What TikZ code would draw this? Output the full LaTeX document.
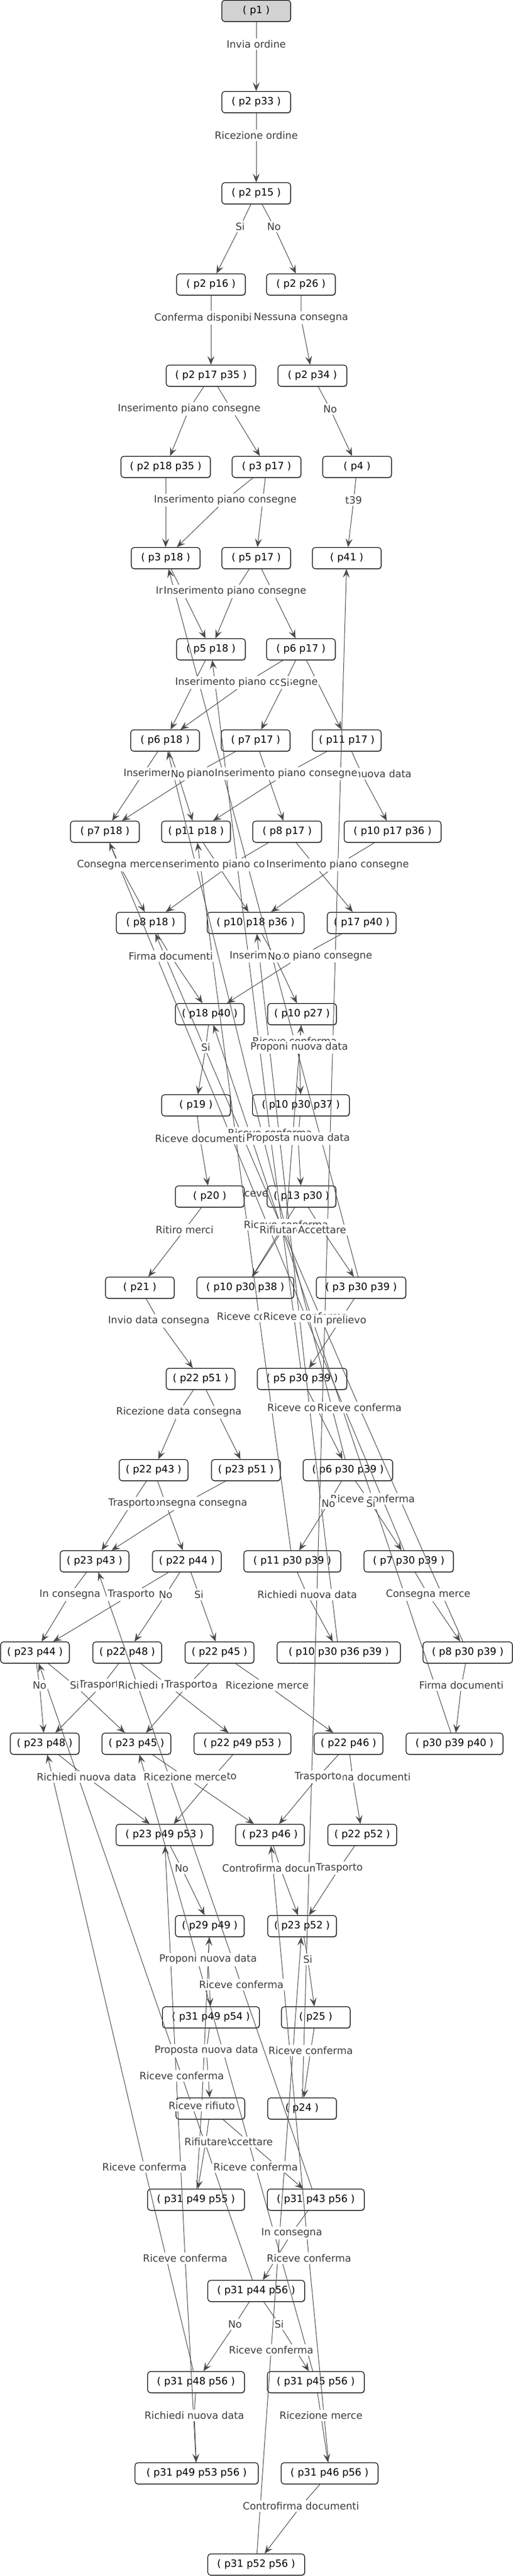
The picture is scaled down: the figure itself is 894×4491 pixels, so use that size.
\documentclass[tikz,border=0pt]{standalone}
\usepackage{fontspec}
\setmainfont{DejaVu Sans}
\usetikzlibrary{arrows.meta,shadows}
\definecolor{edgec}{HTML}{4A4A4A}
\definecolor{labc}{HTML}{3C3C3C}
\newcommand\mylabfont{\fontsize{17.5}{21}\selectfont}
\pgfdeclarelayer{lowlab}
\pgfdeclarelayer{nodelayer}
\pgfdeclarelayer{edgelayer}
\pgfsetlayers{lowlab,nodelayer,edgelayer,main}
\begin{document}
\begin{tikzpicture}[x=1pt,y=-1pt,
  st/.style={draw=black, line width=1.1pt, rounded corners=5pt, fill=white,
    minimum width=120pt, minimum height=37pt, inner sep=0pt, font=\mylabfont,
    drop shadow={shadow xshift=1.2pt, shadow yshift=-1.5pt, fill=black, opacity=0.25}},
  wa/.style={minimum width=156pt},
  wb/.style={minimum width=169pt},
  wc/.style={minimum width=215pt},
  lab/.style={fill=white, text=labc, inner xsep=2pt, inner ysep=3pt, font=\mylabfont},
  e/.style={draw=edgec, line width=1pt, -{Stealth[length=15pt,width=12pt,inset=6pt]}}]
\useasboundingbox (0,0) rectangle (894,4491);

\begin{pgfonlayer}{nodelayer}
\node[st,fill=gray!35] (p1) at (447,19) {( p1 )};
\node[st] (p2p33) at (447,178) {( p2 p33 )};
\node[st] (p2p15) at (447,337) {( p2 p15 )};
\node[st] (p2p16) at (368,496) {( p2 p16 )};
\node[st] (p2p26) at (525,496) {( p2 p26 )};
\node[st,wa] (p2p17p35) at (368,655) {( p2 p17 p35 )};
\node[st] (p2p34) at (545,655) {( p2 p34 )};
\node[st,wa] (p2p18p35) at (289,814) {( p2 p18 p35 )};
\node[st] (p3p17) at (465,814) {( p3 p17 )};
\node[st] (p4) at (623,814) {( p4 )};
\node[st] (p3p18) at (289,973) {( p3 p18 )};
\node[st] (p5p17) at (447,973) {( p5 p17 )};
\node[st] (p41) at (605,973) {( p41 )};
\node[st] (p5p18) at (368,1132) {( p5 p18 )};
\node[st] (p6p17) at (525,1132) {( p6 p17 )};
\node[st] (p6p18) at (288,1291) {( p6 p18 )};
\node[st] (p7p17) at (446,1291) {( p7 p17 )};
\node[st] (p11p17) at (605,1291) {( p11 p17 )};
\node[st] (p7p18) at (183,1450) {( p7 p18 )};
\node[st] (p11p18) at (342,1450) {( p11 p18 )};
\node[st] (p8p17) at (501,1450) {( p8 p17 )};
\node[st,wb] (p10p17p36) at (685,1450) {( p10 p17 p36 )};
\node[st] (p8p18) at (263,1609) {( p8 p18 )};
\node[st,wb] (p10p18p36) at (446,1609) {( p10 p18 p36 )};
\node[st] (p17p40) at (631,1609) {( p17 p40 )};
\node[st] (p18p40) at (366,1768) {( p18 p40 )};
\node[st] (p10p27) at (527,1768) {( p10 p27 )};
\node[st] (p19) at (342,1927) {( p19 )};
\node[st,wb] (p10p30p37) at (525,1927) {( p10 p30 p37 )};
\node[st] (p20) at (366,2086) {( p20 )};
\node[st] (p13p30) at (526,2086) {( p13 p30 )};
\node[st] (p21) at (244,2245) {( p21 )};
\node[st,wb] (p10p30p38) at (428,2245) {( p10 p30 p38 )};
\node[st,wa] (p3p30p39) at (630,2245) {( p3 p30 p39 )};
\node[st] (p22p51) at (350,2404) {( p22 p51 )};
\node[st,wa] (p5p30p39) at (527,2404) {( p5 p30 p39 )};
\node[st] (p22p43) at (268,2563) {( p22 p43 )};
\node[st] (p23p51) at (429,2563) {( p23 p51 )};
\node[st,wa] (p6p30p39) at (607,2563) {( p6 p30 p39 )};
\node[st] (p23p43) at (165,2722) {( p23 p43 )};
\node[st] (p22p44) at (326,2722) {( p22 p44 )};
\node[st,wb] (p11p30p39) at (510,2722) {( p11 p30 p39 )};
\node[st,wa] (p7p30p39) at (713,2722) {( p7 p30 p39 )};
\node[st] (p23p44) at (61,2881) {( p23 p44 )};
\node[st] (p22p48) at (222,2881) {( p22 p48 )};
\node[st] (p22p45) at (383,2881) {( p22 p45 )};
\node[st,wc] (p10p30p36p39) at (591,2881) {( p10 p30 p36 p39 )};
\node[st,wa] (p8p30p39) at (816,2881) {( p8 p30 p39 )};
\node[st] (p23p48) at (78,3040) {( p23 p48 )};
\node[st] (p23p45) at (238,3040) {( p23 p45 )};
\node[st,wb] (p22p49p53) at (423,3040) {( p22 p49 p53 )};
\node[st] (p22p46) at (608,3040) {( p22 p46 )};
\node[st,wb] (p30p39p40) at (793,3040) {( p30 p39 p40 )};
\node[st,wb] (p23p49p53) at (287,3199) {( p23 p49 p53 )};
\node[st] (p23p46) at (471,3199) {( p23 p46 )};
\node[st] (p22p52) at (632,3199) {( p22 p52 )};
\node[st] (p29p49) at (366,3358) {( p29 p49 )};
\node[st] (p23p52) at (527,3358) {( p23 p52 )};
\node[st,wb] (p31p49p54) at (368,3517) {( p31 p49 p54 )};
\node[st] (p25) at (551,3517) {( p25 )};
\node[st] (hid) at (367,3676) {};
\node[st] (p24) at (527,3676) {( p24 )};
\node[st,wb] (p31p49p55) at (342,3835) {( p31 p49 p55 )};
\node[st,wb] (p31p43p56) at (551,3835) {( p31 p43 p56 )};
\node[st,wb] (p31p44p56) at (447,3994) {( p31 p44 p56 )};
\node[st,wb] (p31p48p56) at (342,4153) {( p31 p48 p56 )};
\node[st,wb] (p31p45p56) at (551,4153) {( p31 p45 p56 )};
\node[st,wc] (p31p49p53p56) at (343,4312) {( p31 p49 p53 p56 )};
\node[st,wb] (p31p46p56) at (575,4312) {( p31 p46 p56 )};
\node[st,wb] (p31p52p56) at (447,4471) {( p31 p52 p56 )};
\end{pgfonlayer}

\begin{pgfonlayer}{lowlab}
\node[lab] (L34) at (483,2080) {Riceve conferma};
\end{pgfonlayer}

\node[lab] (L1) at (447,77) {Invia ordine};
\node[lab] (L2) at (447,236) {Ricezione ordine};
\node[lab] (L3) at (419,395) {Si};
\node[lab] (L4) at (478,395) {No};
\node[lab] (L5) at (368,554) {Conferma disponibilità};
\node[lab] (L6) at (525,554) {Nessuna consegna};
\node[lab] (L8) at (330,713) {Inserimento piano consegne};
\node[lab] (L9) at (576,713) {No};
\node[lab] (L12) at (393,872) {Inserimento piano consegne};
\node[lab] (L13) at (617,872) {t39};
\node[lab] (L14) at (318,1031) {In prelievo};
\node[lab] (L15) at (410,1031) {Inserimento piano consegne};
\node[lab] (L16) at (430,1190) {Inserimento piano consegne};
\node[lab] (L17) at (497,1190) {Si};
\node[lab] (L18) at (340,1349) {Inserimento piano consegne};
\node[lab] (L19) at (310,1349) {No};
\node[lab] (L20) at (631,1349) {Richiedi nuova data};
\node[lab] (L21) at (499,1349) {Inserimento piano consegne};
\node[lab] (L22) at (402,1508) {Inserimento piano consegne};
\node[lab] (L23) at (589,1508) {Inserimento piano consegne};
\node[lab] (L24) at (208,1508) {Consegna merce};
\node[lab] (L25) at (298,1667) {Firma documenti};
\node[lab] (L26) at (525,1667) {Inserimento piano consegne};
\node[lab] (L27) at (479,1667) {No};
\node[lab] (L28) at (514,1815) {Riceve conferma};
\node[lab] (L29) at (359,1826) {Si};
\node[lab] (L30) at (522,1826) {Proponi nuova data};
\node[lab] (L31) at (471,1975) {Riceve conferma};
\node[lab] (L32) at (520,1985) {Proposta nuova data};
\node[lab] (L33) at (349,1985) {Riceve documenti};
\node[lab] (L35) at (499,2135) {Riceve conferma};
\node[lab] (L36) at (322,2144) {Ritiro merci};
\node[lab] (L37) at (490,2144) {Rifiutare};
\node[lab] (L38) at (562,2144) {Accettare};
\node[lab] (L39) at (452,2295) {Riceve conferma};
\node[lab] (L40) at (533,2295) {Riceve conferma};
\node[lab] (L41) at (277,2303) {Invio data consegna};
\node[lab] (L42) at (593,2303) {In prelievo};
\node[lab] (L43) at (540,2454) {Riceve conferma};
\node[lab] (L44) at (627,2454) {Riceve conferma};
\node[lab] (L45) at (312,2462) {Ricezione data consegna};
\node[lab] (L46) at (650,2613) {Riceve conferma};
\node[lab] (L47) at (573,2621) {No};
\node[lab] (L48) at (647,2621) {Si};
\node[lab] (L49) at (322,2621) {Ricezione data consegna};
\node[lab] (L50) at (289,2621) {In consegna};
\node[lab] (L51) at (230,2621) {Trasporto};
\node[lab] (L52) at (122,2780) {In consegna};
\node[lab] (L53) at (229,2780) {Trasporto};
\node[lab] (L54) at (289,2780) {No};
\node[lab] (L55) at (347,2780) {Si};
\node[lab] (L56) at (536,2780) {Richiedi nuova data};
\node[lab] (L57) at (747,2780) {Consegna merce};
\node[lab] (L58) at (178,2938) {Trasporto};
\node[lab] (L59) at (130,2938) {Si};
\node[lab] (L60) at (69,2938) {No};
\node[lab] (L61) at (293,2938) {Richiedi nuova data};
\node[lab] (L62) at (328,2938) {Trasporto};
\node[lab] (L63) at (466,2938) {Ricezione merce};
\node[lab] (L64) at (805,2938) {Firma documenti};
\node[lab] (L65) at (151,3098) {Richiedi nuova data};
\node[lab] (L66) at (372,3098) {Trasporto};
\node[lab] (L67) at (323,3098) {Ricezione merce};
\node[lab] (L68) at (615,3098) {Controfirma documenti};
\node[lab] (L69) at (555,3098) {Trasporto};
\node[lab] (L70) at (317,3257) {No};
\node[lab] (L71) at (489,3257) {Controfirma documenti};
\node[lab] (L72) at (592,3257) {Trasporto};
\node[lab] (L73) at (363,3416) {Proponi nuova data};
\node[lab] (L74) at (537,3416) {Si};
\node[lab] (L75) at (421,3460) {Riceve conferma};
\node[lab] (L76) at (360,3575) {Proposta nuova data};
\node[lab] (L77) at (542,3575) {Riceve conferma};
\node[lab] (L78) at (317,3619) {Riceve conferma};
\node[lab] (L79) at (352,3671) {Riceve rifiuto};
\node[lab] (L80) at (434,3734) {Accettare};
\node[lab] (L81) at (359,3734) {Rifiutare};
\node[lab] (L82) at (252,3778) {Riceve conferma};
\node[lab] (L83) at (446,3778) {Riceve conferma};
\node[lab] (L84) at (509,3893) {In consegna};
\node[lab] (L85) at (323,3937) {Riceve conferma};
\node[lab] (L86) at (539,3937) {Riceve conferma};
\node[lab] (L87) at (410,4052) {No};
\node[lab] (L88) at (487,4052) {Si};
\node[lab] (L89) at (473,4097) {Riceve conferma};
\node[lab] (L90) at (339,4211) {Richiedi nuova data};
\node[lab] (L91) at (560,4211) {Ricezione merce};
\node[lab] (L92) at (525,4369) {Controfirma documenti};

\begin{pgfonlayer}{edgelayer}
\draw[e] (p1) -- (L1) -- (p2p33);
\draw[e] (p2p33) -- (L2) -- (p2p15);
\draw[e] (p2p15) -- (L3) -- (p2p16);
\draw[e] (p2p15) -- (L4) -- (p2p26);
\draw[e] (p2p16) -- (L5) -- (p2p17p35);
\draw[e] (p2p26) -- (L6) -- (p2p34);
\draw[e] (p2p17p35) -- (p3p17);
\draw[e] (p2p17p35) -- (L8) -- (p2p18p35);
\draw[e] (p2p34) -- (L9) -- (p4);
\draw[e] (p2p18p35) -- (p3p18);
\draw[e] (p3p17) -- (p5p17);
\draw[e] (p3p17) -- (L12) -- (p3p18);
\draw[e] (p4) -- (L13) -- (p41);
\draw[e] (p3p18) -- (L14) -- (p5p18);
\draw[e] (p5p17) -- (L15) -- (p5p18);
\draw[e] (p5p17) -- (p6p17);
\draw[e] (p5p18) -- (p6p18);
\draw[e] (p6p17) -- (L16) -- (p6p18);
\draw[e] (p6p17) -- (L17) -- (p7p17);
\draw[e] (p6p17) -- (p11p17);
\draw[e] (p7p17) -- (L18) -- (p7p18);
\draw[e] (p6p18) -- (L19) -- (p11p18);
\draw[e] (p6p18) -- (p7p18);
\draw[e] (p11p17) -- (L20) -- (p10p17p36);
\draw[e] (p11p17) -- (L21) -- (p11p18);
\draw[e] (p7p17) -- (p8p17);
\draw[e] (p8p17) -- (L22) -- (p8p18);
\draw[e] (p10p17p36) -- (L23) -- (p10p18p36);
\draw[e] (p7p18) -- (L24) -- (p8p18);
\draw[e] (p11p18) -- (p10p18p36);
\draw[e] (p8p17) -- (p17p40);
\draw[e] (p8p18) -- (L25) -- (p18p40);
\draw[e] (p17p40) -- (L26) -- (p18p40);
\draw[e] (p10p18p36) -- (L27) -- (p10p27);
\draw[e] (p18p40) -- (L29) -- (p19);
\draw[e] (p10p27) -- (L30) -- (p10p30p37);
\draw[e] (p10p30p37) -- (L32) -- (p13p30);
\draw[e] (p19) -- (L33) -- (p20);
\draw[e] (p20) -- (L36) -- (p21);
\draw[e] (p13p30) -- (L37) -- (p10p30p38);
\draw[e] (p13p30) -- (L38) -- (p3p30p39);
\draw[e] (p21) -- (L41) -- (p22p51);
\draw[e] (p3p30p39) -- (L42) -- (p5p30p39);
\draw[e] (p22p51) -- (L45) -- (p22p43);
\draw[e] (p22p51) -- (p23p51);
\draw[e] (p5p30p39) -- (p6p30p39);
\draw[e] (p6p30p39) -- (L47) -- (p11p30p39);
\draw[e] (p6p30p39) -- (L48) -- (p7p30p39);
\draw[e] (p23p51) -- (L49) -- (p23p43);
\draw[e] (p22p43) -- (L50) -- (p22p44);
\draw[e] (p22p43) -- (L51) -- (p23p43);
\draw[e] (p23p43) -- (L52) -- (p23p44);
\draw[e] (p22p44) -- (L53) -- (p23p44);
\draw[e] (p22p44) -- (L54) -- (p22p48);
\draw[e] (p22p44) -- (L55) -- (p22p45);
\draw[e] (p11p30p39) -- (L56) -- (p10p30p36p39);
\draw[e] (p7p30p39) -- (L57) -- (p8p30p39);
\draw[e] (p22p48) -- (L58) -- (p23p48);
\draw[e] (p23p44) -- (L59) -- (p23p45);
\draw[e] (p23p44) -- (L60) -- (p23p48);
\draw[e] (p22p48) -- (L61) -- (p22p49p53);
\draw[e] (p22p45) -- (L62) -- (p23p45);
\draw[e] (p22p45) -- (L63) -- (p22p46);
\draw[e] (p8p30p39) -- (L64) -- (p30p39p40);
\draw[e] (p23p48) -- (L65) -- (p23p49p53);
\draw[e] (p22p49p53) -- (L66) -- (p23p49p53);
\draw[e] (p23p45) -- (L67) -- (p23p46);
\draw[e] (p22p46) -- (L68) -- (p22p52);
\draw[e] (p22p46) -- (L69) -- (p23p46);
\draw[e] (p23p49p53) -- (L70) -- (p29p49);
\draw[e] (p23p46) -- (L71) -- (p23p52);
\draw[e] (p22p52) -- (L72) -- (p23p52);
\draw[e] (p29p49) -- (L73) -- (p31p49p54);
\draw[e] (p23p52) -- (L74) -- (p25);
\draw[e] (p31p49p54) -- (L76) -- (hid);
\draw[e] (p25) -- (L77) -- (p24);
\draw[e] (hid) -- (L80) -- (p31p43p56);
\draw[e] (hid) -- (L81) -- (p31p49p55);
\draw[e] (p31p43p56) -- (L84) -- (p31p44p56);
\draw[e] (p31p44p56) -- (L87) -- (p31p48p56);
\draw[e] (p31p44p56) -- (L88) -- (p31p45p56);
\draw[e] (p31p48p56) -- (L90) -- (p31p49p53p56);
\draw[e] (p31p45p56) -- (L91) -- (p31p46p56);
\draw[e] (p31p46p56) -- (L92) -- (p31p52p56);
% back edges
\draw[e] (p3p30p39) -- (L28) -- (p3p18);
\draw[e] (p5p30p39) -- (L31) -- (p5p18);
\draw[e] (p6p30p39) -- (L34) -- (p6p18);
\draw[e] (p7p30p39) -- (L40) -- (p7p18);
\draw[e] (p11p30p39) -- (L39) -- (p11p18);
\draw[e] (p8p30p39) -- (L44) -- (p8p18);
\draw[e] (p10p30p36p39) -- (L43) -- (p10p18p36);
\draw[e] (p30p39p40) -- (L46) -- (p18p40);
\draw[e] (p10p30p38) -- (L35) -- (p10p27);
\draw[e] (p24) -- (p41);
\draw[e] (p31p43p56) -- (L75) -- (p23p43);
\draw[e] (p31p44p56) -- (L78) -- (p23p44);
\draw[e] (p31p48p56) -- (L82) -- (p23p48);
\draw[e] (p31p45p56) -- (L83) -- (p23p45);
\draw[e] (p31p49p53p56) -- (L85) -- (p23p49p53);
\draw[e] (p31p46p56) -- (L86) -- (p23p46);
\draw[e] (p31p52p56) -- (L89) -- (p23p52);
\draw[e] (p31p49p55) -- (L79) -- (p29p49);
\end{pgfonlayer}
\end{tikzpicture}
\end{document}
